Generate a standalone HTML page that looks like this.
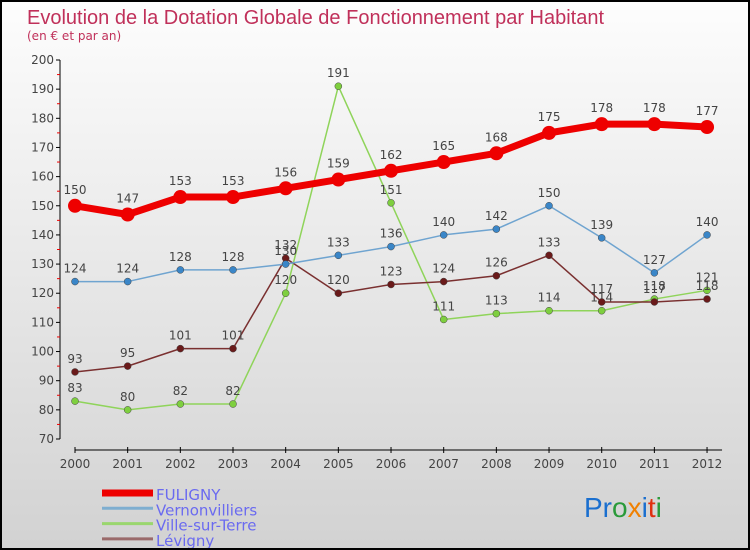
<!DOCTYPE html>
<html><head><meta charset="utf-8"><style>
body{margin:0;width:750px;height:550px;overflow:hidden}
#c{position:relative;width:746px;height:546px;border:2px solid #000;background:linear-gradient(#fdfdfd,#d2d2d2);font-family:"DejaVu Sans","Liberation Sans",sans-serif}
</style></head><body>
<div id="c">
<svg id="s" width="746" height="546" style="position:absolute;left:0;top:0">
<text x="25" y="22" font-size="20" fill="#c0305a" font-family="Liberation Sans, sans-serif">Evolution de la Dotation Globale de Fonctionnement par Habitant</text>
<text x="25" y="38" font-size="12" fill="#c0305a">(en € et par an)</text>
<g id="g"></g>
<text x="582" y="515" font-size="28" font-family="Liberation Sans, sans-serif"><tspan fill="#1a6fcf">Pr</tspan><tspan fill="#2a9a3a">o</tspan><tspan fill="#f08000">x</tspan><tspan fill="#1a6fcf">i</tspan><tspan fill="#e03010">t</tspan><tspan fill="#2a9a3a">i</tspan></text>
</svg></div>
<script>
const years=[2000,2001,2002,2003,2004,2005,2006,2007,2008,2009,2010,2011,2012];
const yTicks=[70,80,90,100,110,120,130,140,150,160,170,180,190,200];
const fuligny=[150,147,153,153,156,159,162,165,168,175,178,178,177];
const vernon=[124,124,128,128,130,133,136,140,142,150,139,127,140];
const ville=[83,80,82,82,120,191,151,111,113,114,114,118,121];
const levigny=[93,95,101,101,132,120,123,124,126,133,117,117,118];
const names=["FULIGNY","Vernonvilliers","Ville-sur-Terre","Lévigny"];
const NS="http://www.w3.org/2000/svg";
const g=document.getElementById('g');
function X(i){return 73+i*52.67}
function Y(v){return 437-(v-70)*379/130}
function mk(t,a,p){const e=document.createElementNS(NS,t);for(const k in a)e.setAttribute(k,a[k]);(p||g).appendChild(e);return e}
let ax=mk('line',{x1:58,y1:Y(200),x2:58,y2:Y(70),stroke:'#000'});


let bx=mk('line',{x1:X(0),y1:448,x2:X(12)+15,y2:448,stroke:'#000'});


yTicks.forEach(v=>{
  mk('line',{x1:54,y1:Y(v),x2:58,y2:Y(v),stroke:'#000'});
  if(v<200)mk('line',{x1:55,y1:Y(v+5),x2:58,y2:Y(v+5),stroke:'#e00'});
  const t=mk('text',{x:52,y:Y(v)+4,'font-size':12,fill:'#444','text-anchor':'end'});
  t.textContent=v;
  
  
});
years.forEach((y,i)=>{
  mk('line',{x1:X(i),y1:445,x2:X(i),y2:451,stroke:'#000'});
  const t=mk('text',{x:X(i),y:466,'font-size':12,fill:'#444','text-anchor':'middle'});
  t.textContent=y;
  
  
});
const series=[
 {d:ville,c:'#8fd45a',dot:'#7ecf3f',w:1.5,r:3.5,n:'ville-sur-terre'},
 {d:levigny,c:'#7a3030',dot:'#6a1a1a',w:1.5,r:3.5,n:'levigny'},
 {d:vernon,c:'#6fa4d0',dot:'#3a86c8',w:1.5,r:3.5,n:'vernonvilliers'},
 {d:fuligny,c:'#e00',dot:'#e00',w:7,r:7,n:'fuligny'}];
series.forEach(s=>{
  const l=mk('polyline',{points:s.d.map((v,i)=>X(i)+','+Y(v)).join(' '),fill:'none',stroke:s.c,'stroke-width':s.w,'stroke-linejoin':'round'});
  
  
  s.d.forEach((v,i)=>{
    const p=mk('circle',{cx:X(i),cy:Y(v),r:s.r,fill:s.dot,stroke:s.r<5?'#444':'none','stroke-width':0.5});
    
    
    const t=mk('text',{x:X(i),y:Y(v)-(s.r>5?12:9),'font-size':12,fill:'#444','text-anchor':'middle'});
    t.textContent=v;
    
    
  });
});
const lc=['#e00','#7eaed0','#9ad66e','#9a6a6a'],lw=[7,3,3,3];
names.forEach((n,i)=>{
  const y=491+i*15.3;
  const l=mk('line',{x1:100,y1:y,x2:151,y2:y,stroke:lc[i],'stroke-width':lw[i]});
  
  
  const t=mk('text',{x:154,y:y+7,'font-size':15,fill:'#6a6af0'});
  t.textContent=n;
  
  
});
</script>
</body></html>
